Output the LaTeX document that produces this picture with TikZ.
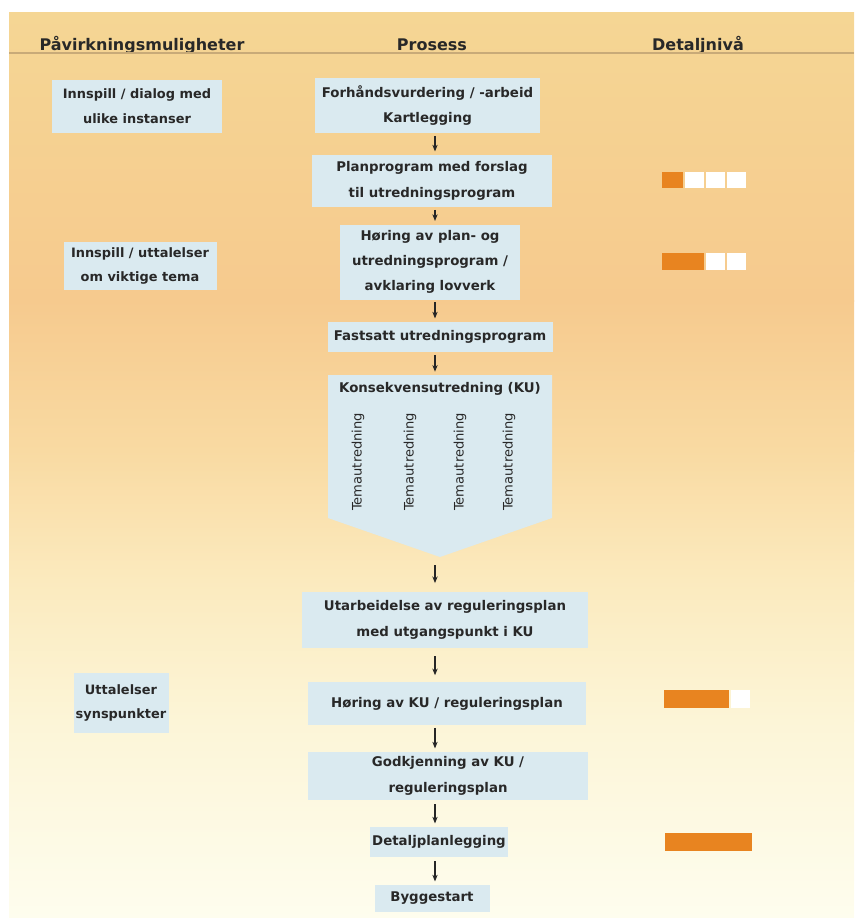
\documentclass[tikz,border=0pt]{standalone}
\usepackage{fontspec}
\setmainfont{DejaVu Sans}
\usetikzlibrary{arrows.meta}
\definecolor{bgA}{RGB}{245,214,148}
\definecolor{bgB}{RGB}{246,202,142}
\definecolor{bgC}{RGB}{249,218,162}
\definecolor{bgD}{RGB}{251,234,190}
\definecolor{bgE}{RGB}{252,245,215}
\definecolor{bgF}{RGB}{254,253,238}
\definecolor{boxblue}{RGB}{218,234,240}
\definecolor{txt}{RGB}{40,40,40}
\definecolor{lvl}{RGB}{232,132,32}
\definecolor{rule}{RGB}{200,170,120}
\begin{document}
\begin{tikzpicture}[x=0.75pt,y=-0.75pt,
  pbox/.style={fill=boxblue, text=txt, align=center, inner sep=0pt,
    font=\fontsize{10}{19}\selectfont\bfseries},
  lbox/.style={pbox, font=\fontsize{9.7}{18.5}\selectfont\bfseries},
  head/.style={text=txt, font=\fontsize{12}{14}\selectfont\bfseries},
  tema/.style={text=txt, rotate=90, font=\fontsize{9.8}{11}\selectfont},
  arr/.style={-{Stealth[length=5pt,width=4pt]}, line width=0.9pt, draw=black!85,
    shorten <=2pt, shorten >=2.5pt},
  orange/.style={fill=lvl},
  white/.style={fill=white}]
\useasboundingbox (0,0) rectangle (854,918);
\fill[white] (0,0) rectangle (854,918);
% background gradient
\shade[top color=bgA, bottom color=bgB] (9,12) rectangle (854,301);
\shade[top color=bgB, bottom color=bgC] (9,300) rectangle (854,451);
\shade[top color=bgC, bottom color=bgD] (9,450) rectangle (854,581);
\shade[top color=bgD, bottom color=bgE] (9,580) rectangle (854,721);
\shade[top color=bgE, bottom color=bgF] (9,720) rectangle (854,918);
% header
\node[head] (h1) at (142,45) {Påvirkningsmuligheter};
\node[head] (h2) at (432,45) {Prosess};
\node[head] (h3) at (698,45) {Detaljnivå};
\coordinate (rl) at (9,53);
\coordinate (rr) at (854,53);
\draw[rule, line width=0.8pt] (rl) -- (rr);
% left column
\node[lbox, minimum width=127.5pt, minimum height=39.75pt] (L1) at (137,106) {Innspill / dialog med\\ulike instanser};
\node[lbox, minimum width=114.75pt, minimum height=36pt] (L2) at (140,266) {Innspill / uttalelser\\om viktige tema};
\node[lbox, minimum width=71.25pt, minimum height=45pt] (L3) at (121,703) {Uttalelser\\synspunkter};
% process column
\node[pbox, minimum width=168.75pt, minimum height=41.25pt] (A) at (427.5,105.5) {Forhåndsvurdering / -arbeid\\Kartlegging};
\node[pbox, minimum width=180pt, minimum height=39pt] (B) at (432,181) {Planprogram med forslag\\til utredningsprogram};
\node[pbox, minimum width=135pt, minimum height=56.25pt] (C) at (430,262) {Høring av plan- og\\utredningsprogram /\\avklaring lovverk};
\node[pbox, minimum width=168.75pt, minimum height=22.5pt] (D) at (440,337) {Fastsatt utredningsprogram};
\fill[boxblue] (328,375) -- (552,375) -- (552,518) -- (440,557) -- (328,518) -- cycle;
\coordinate (KUtop) at (440,375);
\coordinate (KUtip) at (440,557);
\node[pbox, fill=none] (KU) at (440,389) {Konsekvensutredning (KU)};
\node[tema] (T1) at (358,462) {Temautredning};
\node[tema] (T2) at (410,462) {Temautredning};
\node[tema] (T3) at (460,462) {Temautredning};
\node[tema] (T4) at (509,462) {Temautredning};
\node[pbox, minimum width=214.5pt, minimum height=42pt] (F) at (445,620) {Utarbeidelse av reguleringsplan\\med utgangspunkt i KU};
\node[pbox, minimum width=208pt, minimum height=32pt] (G) at (447,703.5) {Høring av KU / reguleringsplan};
\node[pbox, minimum width=210pt, minimum height=36pt] (H) at (448,776) {Godkjenning av KU /\\reguleringsplan};
\node[pbox, minimum width=103.5pt, minimum height=22.5pt] (I) at (439,842) {Detaljplanlegging};
\node[pbox, minimum width=86.25pt, minimum height=20.25pt] (J) at (432,898.5) {Byggestart};
% arrows
\coordinate (ax) at (435,0);
\draw[arr] (A.south -| ax) -- (B.north -| ax);
\draw[arr] (B.south -| ax) -- (C.north -| ax);
\draw[arr] (C.south -| ax) -- (D.north -| ax);
\draw[arr] (D.south -| ax) -- (KUtop -| ax);
\draw[arr, shorten <=6pt, shorten >=6.5pt] (KUtip -| ax) -- (F.north -| ax);
\draw[arr, shorten <=6pt, shorten >=5pt] (F.south -| ax) -- (G.north -| ax);
\draw[arr] (G.south -| ax) -- (H.north -| ax);
\draw[arr, shorten <=3pt] (H.south -| ax) -- (I.north -| ax);
\draw[arr, shorten <=3pt] (I.south -| ax) -- (J.north -| ax);
% detail level bars
\path[orange] (662,172) rectangle (683,188);
\path[white] (685,172) rectangle (704,188);
\path[white] (706,172) rectangle (725,188);
\path[white] (727,172) rectangle (746,188);
\path[orange] (662,253) rectangle (704,270);
\path[white] (706,253) rectangle (725,270);
\path[white] (727,253) rectangle (746,270);
\path[orange] (664,690) rectangle (729,708);
\path[white] (731,690) rectangle (750,708);
\path[orange] (665,833) rectangle (752,851);
\end{tikzpicture}
\end{document}
